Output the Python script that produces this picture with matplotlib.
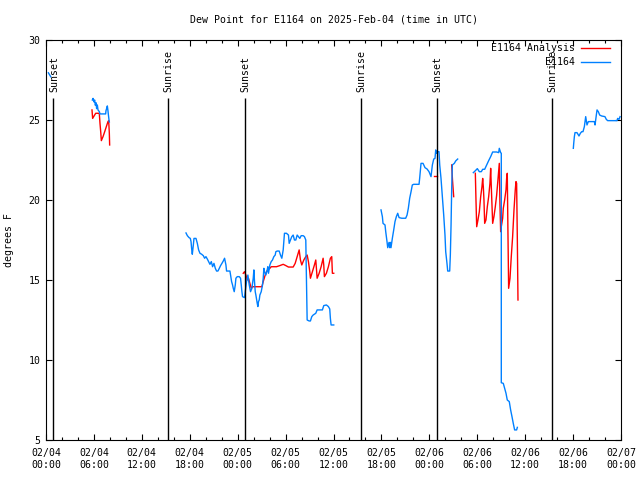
import matplotlib
matplotlib.use('Agg')
import matplotlib.pyplot as plt
from matplotlib.lines import Line2D

plt.rcParams['font.family'] = ['DejaVu Sans Mono', 'DejaVu Sans']
FS = 7.1

# time axis: hours since 2025-02-04 00:00 UTC
x_ticks = [0, 6, 12, 18, 24, 30, 36, 42, 48, 54, 60, 66, 72]
x_labels = ['02/04\n00:00', '02/04\n06:00', '02/04\n12:00', '02/04\n18:00',
            '02/05\n00:00', '02/05\n06:00', '02/05\n12:00', '02/05\n18:00',
            '02/06\n00:00', '02/06\n06:00', '02/06\n12:00', '02/06\n18:00',
            '02/07\n00:00']
y_ticks = [5, 10, 15, 20, 25, 30]

sun_times = [0.9, 15.28, 24.92, 39.44, 48.96, 63.36]
sun_names = ['Sunset', 'Sunrise', 'Sunset', 'Sunrise', 'Sunset', 'Sunrise']

# ---- E1164 Analysis (red) ----
red_t1 = [5.76, 5.84, 6.22, 6.60, 6.68, 6.76, 6.85, 6.93, 7.14, 7.35, 7.55, 7.76, 7.85, 7.93, 7.97]
red_v1 = [25.63, 25.10, 25.42, 25.42, 25.38, 24.79, 24.27, 23.71, 23.96, 24.27, 24.58, 24.90, 24.96, 24.17, 23.44]

red_t2 = [24.70, 24.86, 25.03, 25.20, 25.36, 25.53, 25.70, 25.86, 26.03, 27.03, 27.20, 27.45, 27.61,
          27.78, 28.03, 28.20, 28.86, 29.28, 29.70, 30.03, 30.36, 30.95, 31.20, 31.45, 31.70, 31.86,
          32.03, 32.28, 32.53, 32.70, 32.86, 33.03, 33.11, 33.36, 33.61, 33.78, 33.86, 33.95, 34.20,
          34.45, 34.70, 34.78, 34.86, 35.11, 35.36, 35.61, 35.78, 35.86, 36.03]
red_v2 = [15.42, 15.52, 15.31, 15.00, 15.10, 14.79, 14.48, 14.58, 14.58, 14.58, 14.90, 15.31, 15.52,
          15.63, 15.73, 15.83, 15.83, 15.90, 15.98, 15.90, 15.81, 15.81, 16.04, 16.46, 16.88, 16.25,
          15.94, 16.25, 16.46, 16.56, 16.15, 15.52, 15.11, 15.52, 15.94, 16.25, 15.73, 15.11, 15.42,
          15.83, 16.36, 15.94, 15.21, 15.42, 15.83, 16.36, 16.46, 15.42, 15.42]

red_t3 = [48.60, 48.90]
red_v3 = [21.48, 21.48]

red_t4 = [50.80, 50.90, 51.05]
red_v4 = [22.19, 21.25, 20.21]

red_t5 = [53.76, 53.84, 53.93, 54.09, 54.26, 54.43, 54.59, 54.68, 54.76, 54.84, 54.93, 55.09, 55.26,
          55.43, 55.59, 55.68, 55.76, 55.93, 56.09, 56.26, 56.43, 56.59, 56.76, 56.84, 56.93, 57.01,
          57.18, 57.26, 57.43, 57.60, 57.68, 57.76, 57.84, 57.93, 58.10, 58.26, 58.43, 58.60, 58.76,
          58.85, 58.93, 59.02, 59.10]
red_v5 = [21.67, 20.00, 18.33, 18.75, 19.27, 20.21, 20.83, 21.35, 20.83, 20.00, 18.54, 18.75, 19.58,
          20.21, 21.04, 21.98, 20.83, 18.54, 18.96, 19.58, 20.31, 21.25, 22.29, 19.79, 18.02, 18.33,
          18.85, 19.48, 20.00, 20.63, 21.35, 21.67, 18.13, 14.48, 15.10, 16.46, 17.71, 19.38, 20.63,
          21.15, 21.04, 17.50, 13.75]

# ---- E1164 (blue) ----
blue_t0 = [0.30, 0.60]
blue_v0 = [27.95, 27.70]

blue_t1 = [5.80, 5.89, 6.01, 6.09, 6.18, 6.26, 6.34, 6.43, 6.51, 6.68, 6.76, 7.47, 7.51, 7.60, 7.68,
           7.76, 7.80, 7.89, 7.93]
blue_v1 = [26.25, 26.35, 26.13, 26.25, 25.92, 26.08, 25.71, 25.94, 25.63, 25.52, 25.38, 25.38, 25.58,
           25.73, 25.88, 25.58, 25.38, 25.00, 24.88]

blue_t2 = [17.53, 17.70, 17.91, 18.07, 18.16, 18.24, 18.32, 18.45, 18.53, 18.78, 18.95, 19.11, 19.28,
           19.49, 19.70, 19.86, 20.03, 20.20, 20.36, 20.53, 20.70, 20.86, 21.03, 21.20, 21.36, 21.53,
           21.70, 21.86, 22.03, 22.20, 22.36, 22.53, 22.61, 23.03, 23.11, 23.24, 23.36, 23.45, 23.57,
           23.70, 23.78, 23.95, 24.20, 24.36, 24.45, 24.53, 24.61, 24.86, 24.95, 25.11, 25.28, 25.45,
           25.61, 25.78, 25.95, 26.03, 26.11, 26.20, 26.28, 26.45, 26.53, 26.61, 26.70, 26.78, 26.95,
           27.11, 27.20, 27.28, 27.36, 27.53, 27.70, 27.78, 27.86, 28.03, 28.20, 28.36, 28.53, 28.70,
           28.78, 28.95, 29.20, 29.36, 29.53, 29.70, 29.86, 30.11, 30.36, 30.45, 30.61, 30.78, 30.95,
           31.11, 31.28, 31.45, 31.61, 31.78, 31.95, 32.20, 32.36, 32.53, 32.61, 32.70, 32.95, 33.11,
           33.28, 33.45, 33.78, 33.95, 34.61, 34.78, 35.11, 35.36, 35.53, 35.61, 35.70, 36.03]
blue_v2 = [17.94, 17.77, 17.65, 17.60, 17.40, 16.94, 16.61, 17.19, 17.60, 17.60, 17.29, 16.88, 16.67,
           16.61, 16.52, 16.36, 16.46, 16.31, 16.15, 15.98, 16.15, 15.83, 16.04, 15.73, 15.56, 15.56,
           15.73, 15.90, 16.04, 16.19, 16.36, 15.94, 15.56, 15.56, 15.31, 14.90, 14.69, 14.48, 14.27,
           14.69, 15.11, 15.21, 15.21, 15.11, 14.69, 14.27, 13.96, 13.90, 14.27, 14.90, 15.31, 14.69,
           14.27, 14.48, 15.11, 15.63, 14.90, 14.27, 14.06, 13.54, 13.34, 13.65, 13.75, 14.06, 14.27,
           14.69, 15.11, 15.73, 15.52, 15.31, 15.63, 15.83, 15.42, 15.94, 16.15, 16.25, 16.46, 16.56,
           16.77, 16.81, 16.81, 16.56, 16.36, 16.88, 17.92, 17.92, 17.81, 17.29, 17.50, 17.71, 17.81,
           17.50, 17.50, 17.81, 17.71, 17.60, 17.77, 17.77, 17.71, 17.50, 15.11, 12.50, 12.44, 12.44,
           12.71, 12.81, 12.92, 13.13, 13.13, 13.40, 13.44, 13.34, 13.19, 12.60, 12.19, 12.19]

blue_t3 = [41.95, 42.12, 42.20, 42.45, 42.54, 42.70, 42.79, 42.95, 43.04, 43.12, 43.20, 43.37, 43.54,
           43.70, 43.87, 44.04, 44.21, 44.54, 45.04, 45.21, 45.37, 45.54, 45.71, 45.87, 46.04, 46.71,
           46.79, 46.96, 47.21, 47.46, 47.71, 47.96, 48.21, 48.38, 48.55, 48.71, 48.80, 48.88, 48.96,
           49.21, 49.30, 49.46, 49.63, 49.80, 49.96, 50.05, 50.21, 50.30, 50.55, 50.63, 50.72, 50.80,
           50.88, 51.13, 51.30, 51.55]
blue_v3 = [19.38, 18.96, 18.54, 18.44, 18.02, 17.40, 17.02, 17.35, 17.02, 17.35, 17.02, 17.61, 18.13,
           18.65, 18.96, 19.17, 18.90, 18.86, 18.86, 19.06, 19.48, 20.11, 20.52, 20.94, 20.98, 20.98,
           21.36, 22.29, 22.29, 22.02, 21.94, 21.77, 21.46, 22.19, 22.56, 22.60, 23.13, 22.92, 23.02,
           23.02, 22.19, 21.36, 20.21, 19.06, 17.81, 16.77, 16.04, 15.56, 15.56, 16.56, 18.44, 20.73,
           22.19, 22.29, 22.44, 22.56]

blue_t4 = [53.51, 53.76, 54.01, 54.26, 54.51, 54.68, 54.93, 55.18, 55.43, 55.68, 55.93, 56.43, 56.68,
           56.76, 56.93, 57.01, 57.01, 57.26, 57.43, 57.60, 57.76, 58.01, 58.18, 58.35, 58.51, 58.68,
           58.93, 59.02]
blue_v4 = [21.71, 21.83, 21.96, 21.77, 21.77, 21.92, 21.92, 22.19, 22.46, 22.71, 23.00, 23.00, 22.96,
           23.23, 22.96, 22.92, 8.58, 8.54, 8.23, 7.92, 7.50, 7.40, 6.88, 6.46, 6.04, 5.63, 5.63, 5.79]

blue_t5 = [66.03, 66.08, 66.16, 66.24, 66.49, 66.74, 66.91, 67.08, 67.24, 67.41, 67.58, 67.74, 67.91,
           68.16, 68.66, 68.75, 68.91, 69.00, 69.16, 69.33, 69.58, 69.99, 70.16, 70.33, 70.83, 71.50,
           71.58, 71.75, 71.88]
blue_v5 = [23.23, 23.54, 23.96, 24.21, 24.21, 24.00, 24.17, 24.27, 24.27, 24.58, 25.21, 24.69, 24.90,
           24.90, 24.90, 24.69, 25.31, 25.63, 25.52, 25.31, 25.25, 25.21, 25.04, 24.96, 24.96, 24.96,
           25.10, 25.04, 25.21]

RED = '#ff0000'
BLUE = '#0080ff'

fig = plt.figure(figsize=(6.4, 4.8), dpi=100)
ax = fig.add_axes([46/640, 40/480, 575/640, 400/480])

for t, v in [(red_t1, red_v1), (red_t2, red_v2), (red_t3, red_v3), (red_t4, red_v4), (red_t5, red_v5)]:
    ax.plot(t, v, color=RED, lw=1.0)
for t, v in [(blue_t0, blue_v0), (blue_t1, blue_v1), (blue_t2, blue_v2), (blue_t3, blue_v3),
             (blue_t4, blue_v4), (blue_t5, blue_v5)]:
    ax.plot(t, v, color=BLUE, lw=1.0)

ax.vlines(sun_times, 5, 26.35, color='black', lw=1.0, zorder=5)
for t, n in zip(sun_times, sun_names):
    ax.text(t + 0.1, 26.75, n, rotation=90, ha='center', va='bottom', fontsize=FS, zorder=6)

ax.set_xlim(0, 72)
ax.set_ylim(5, 30)
ax.set_xticks(x_ticks)
ax.set_xticklabels(x_labels, fontsize=FS)
ax.set_xticks(range(0, 73, 2), minor=True)
ax.set_yticks(y_ticks)
ax.set_yticklabels([str(y) for y in y_ticks], fontsize=FS)
ax.tick_params(which='both', direction='in', top=True, right=True, width=0.8)
ax.tick_params(which='major', length=4)
ax.tick_params(which='minor', length=2.5)
ax.tick_params(axis='x', which='major', pad=6)
ax.tick_params(axis='y', which='major', pad=4)
for s in ax.spines.values():
    s.set_linewidth(0.8)

ax.set_ylabel('degrees F', fontsize=FS)
ax.yaxis.set_label_coords(-0.055, 0.5)

fig.text(333.5/640, 1 - 19/480, 'Dew Point for E1164 on 2025-Feb-04 (time in UTC)',
         ha='center', va='center', fontsize=FS)

common = dict(frameon=False, markerfirst=False, fontsize=FS, handlelength=2.95,
              handletextpad=0.6, borderpad=0, borderaxespad=0, loc='center right')
leg1 = ax.legend([Line2D([], [], color=RED, lw=1.0)], ['E1164 Analysis'],
                 bbox_to_anchor=(0.981, 0.98), **common)
ax.add_artist(leg1)
ax.legend([Line2D([], [], color=BLUE, lw=1.0)], ['E1164'],
          bbox_to_anchor=(0.981, 0.945), **common)

fig.savefig('out.png', dpi=100)
